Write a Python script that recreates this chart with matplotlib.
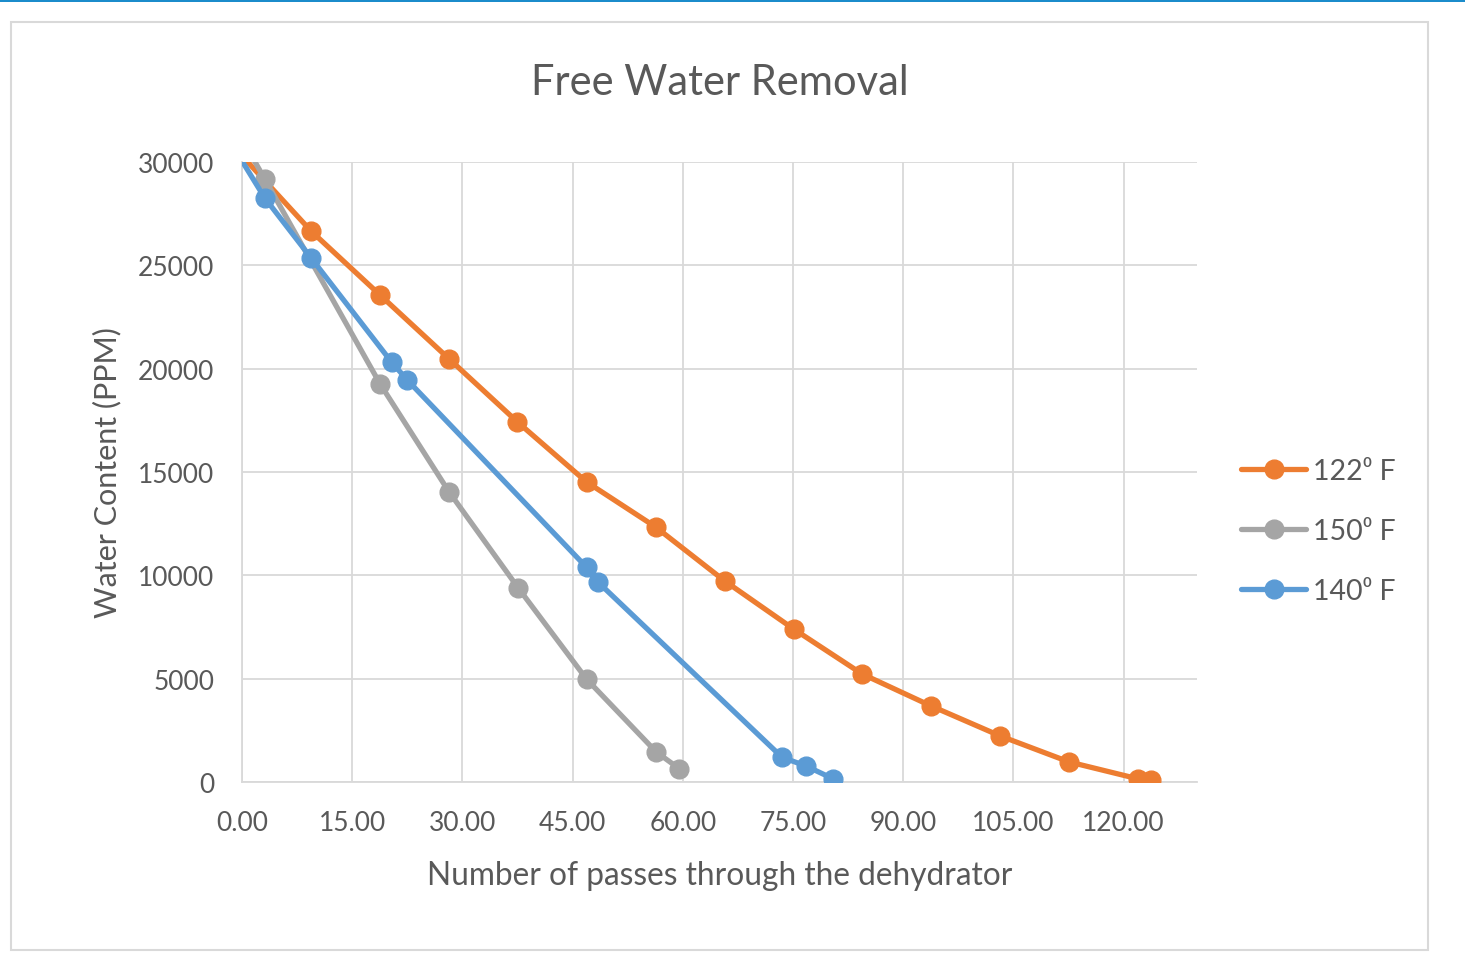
import matplotlib.pyplot as plt
from matplotlib.patches import Rectangle
from matplotlib.ticker import FuncFormatter

# Data (first point sits above the 30000 cap and is clipped)
x_122 = [0, 9.4, 18.8, 28.2, 37.5, 46.9, 56.3, 65.7, 75.1, 84.4, 93.8, 103.2, 112.6, 122.0, 123.7]
y_122 = [30300, 26660, 23560, 20470, 17420, 14520, 12340, 9730, 7400, 5230, 3680, 2230, 970, 150, 100]

x_150 = [0, 3.1, 18.8, 28.2, 37.6, 46.9, 56.4, 59.5]
y_150 = [31100, 29180, 19260, 14030, 9390, 4980, 1450, 650]

x_140 = [0, 3.1, 9.4, 20.4, 22.5, 46.9, 48.5, 73.5, 76.8, 80.5]
y_140 = [30050, 28260, 25360, 20300, 19450, 10390, 9660, 1200, 770, 150]

series = [
    ("122\u2070 F", x_122, y_122, "#ED7D31"),
    ("150\u2070 F", x_150, y_150, "#A5A5A5"),
    ("140\u2070 F", x_140, y_140, "#5B9BD5"),
]

text_col = "#595959"
grid_col = "#D9D9D9"
plt.rcParams['font.family'] = ['Lato', 'DejaVu Sans']

fig = plt.figure(figsize=(14.65, 9.54), dpi=100)

# Blue strip at the very top and the light chart border
fig.patches.append(Rectangle((0, 1 - 3 / 954), 1, 3 / 954, transform=fig.transFigure,
                             facecolor="#1B8CCB", edgecolor="none"))
fig.patches.append(Rectangle((11 / 1465, 1 - 951 / 954), 1417 / 1465, 928 / 954,
                             transform=fig.transFigure, facecolor="none",
                             edgecolor=grid_col, linewidth=1.5))

ax = fig.add_axes([242 / 1465, 1 - 783 / 954, 955 / 1465, 620 / 954])

for label, xs, ys, col in series:
    ax.plot(xs, ys, color=col, linewidth=3.8, marker='o', markersize=13.5,
            markevery=slice(1, None), label=label, solid_capstyle='round', zorder=3)

ax.set_xlim(0, 130)
ax.set_ylim(0, 30000)
ax.set_xticks(range(0, 121, 15))
ax.set_yticks(range(0, 30001, 5000))
ax.xaxis.set_major_formatter(FuncFormatter(lambda v, p: f"{v:.2f}"))

ax.grid(True, color=grid_col, linewidth=1.3)
ax.set_axisbelow(True)
for side in ['top', 'right']:
    ax.spines[side].set_visible(False)
for side in ['left', 'bottom']:
    ax.spines[side].set_color(grid_col)
    ax.spines[side].set_linewidth(1.3)
ax.tick_params(length=0, labelsize=19, labelcolor=text_col)
ax.tick_params(axis='x', pad=20)
ax.tick_params(axis='y', pad=20)

ax.set_title("Free Water Removal", fontsize=30, color=text_col, pad=49)
ax.set_xlabel("Number of passes through the dehydrator", fontsize=22.8, color=text_col, labelpad=18)
ax.set_ylabel("Water Content (PPM)", fontsize=22, color=text_col, labelpad=12)

ax.legend(loc='center left', bbox_to_anchor=(1.019, 0.405), frameon=False, fontsize=20.5,
          labelcolor=text_col, handlelength=2.3, handletextpad=0.25, labelspacing=1.2)

plt.savefig("out.png", dpi=100)
